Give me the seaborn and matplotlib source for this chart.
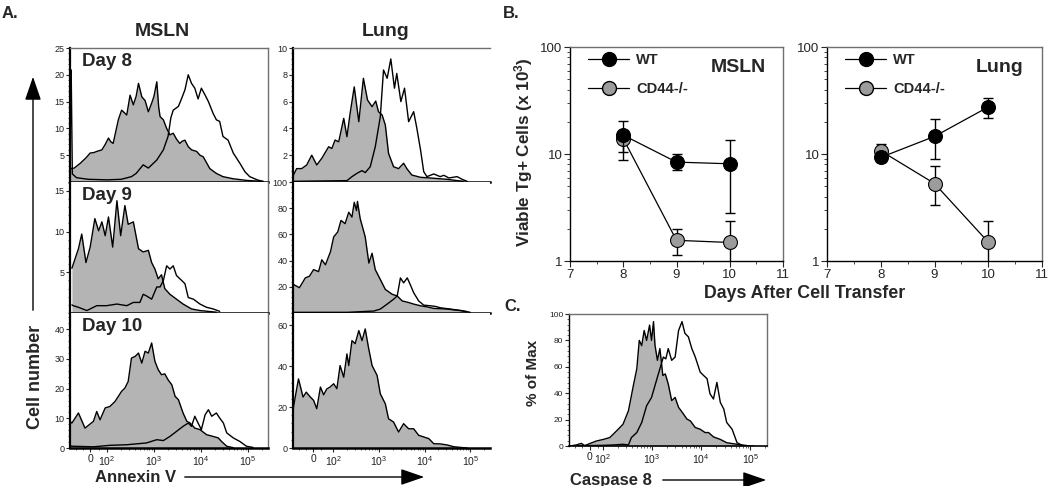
import numpy as np
import pandas as pd
import matplotlib
matplotlib.use("Agg")
import matplotlib.pyplot as plt
import seaborn as sns
from matplotlib.patches import FancyArrowPatch
from matplotlib.lines import Line2D
from matplotlib.ticker import AutoMinorLocator, FixedLocator, LogLocator, NullFormatter

# ---------------- data: panel A (x in decade units of the flow axis) ----------------
msln_d8_fill_x = [1.21, 1.25, 1.30, 1.43, 1.55, 1.64, 1.72, 1.78, 1.89, 1.96, 2.03, 2.08, 2.13, 2.20, 2.24, 2.31, 2.36, 2.42, 2.49, 2.56, 2.62, 2.67, 2.74, 2.81, 2.85, 2.88, 2.95, 3.00, 3.06, 3.10, 3.13, 3.20, 3.27, 3.34, 3.41, 3.48, 3.55, 3.60, 3.66, 3.73, 3.80, 3.91, 3.98, 4.05, 4.12, 4.19, 4.33, 4.47, 4.69, 4.97, 5.33]
msln_d8_fill_y = [2.6, 2.5, 2.6, 3.5, 4.5, 5.4, 5.5, 5.7, 6.0, 7.0, 8.2, 7.5, 7.2, 10.0, 11.6, 13.4, 13.0, 12.5, 16.2, 14.4, 16.0, 18.4, 15.9, 15.2, 14.0, 13.1, 14.7, 16.0, 18.7, 14.0, 12.2, 11.6, 10.0, 8.8, 9.1, 8.0, 7.2, 7.6, 7.8, 6.6, 6.0, 5.7, 5.0, 4.7, 3.6, 2.5, 1.6, 1.0, 0.6, 0.3, 0.1]
msln_d8_open_x = [1.21, 1.225, 1.235, 1.26, 1.35, 1.60, 2.00, 2.30, 2.52, 2.62, 2.77, 2.88, 3.06, 3.20, 3.30, 3.36, 3.41, 3.52, 3.59, 3.66, 3.73, 3.80, 3.87, 3.94, 4.01, 4.09, 4.16, 4.26, 4.33, 4.40, 4.47, 4.58, 4.69, 4.83, 4.94, 5.04, 5.20, 5.33]
msln_d8_open_y = [0.5, 20.9, 20.9, 1.5, 0.8, 0.5, 0.4, 0.5, 1.0, 1.6, 3.2, 2.6, 4.1, 6.0, 8.5, 12.0, 13.4, 14.1, 15.6, 17.2, 20.0, 18.4, 17.5, 15.5, 17.5, 16.2, 15.0, 12.8, 11.6, 11.3, 8.5, 7.8, 5.4, 3.5, 1.9, 1.0, 0.4, 0.1]

msln_d9_fill_x = [1.25, 1.28, 1.39, 1.46, 1.55, 1.64, 1.74, 1.82, 1.89, 1.96, 2.03, 2.12, 2.21, 2.29, 2.38, 2.45, 2.56, 2.67, 2.77, 2.88, 2.95, 3.02, 3.09, 3.16, 3.23, 3.34, 3.48, 3.62, 3.80, 3.98, 4.33]
msln_d9_fill_y = [5.5, 6.0, 7.9, 9.7, 6.2, 8.1, 11.6, 10.1, 11.2, 9.5, 11.8, 8.1, 13.8, 9.5, 13.2, 10.9, 11.2, 7.9, 7.5, 7.7, 6.2, 5.4, 4.2, 4.7, 3.0, 2.3, 1.7, 1.1, 0.5, 0.3, 0.1]
msln_d9_open_x = [1.25, 1.28, 1.39, 1.57, 1.78, 1.99, 2.21, 2.42, 2.56, 2.70, 2.77, 2.84, 2.95, 3.06, 3.13, 3.20, 3.27, 3.34, 3.41, 3.48, 3.59, 3.66, 3.73, 3.84, 3.98, 4.12, 4.26, 4.40]
msln_d9_open_y = [1.0, 0.9, 0.7, 0.3, 0.9, 0.9, 1.1, 0.9, 1.3, 1.3, 2.3, 2.1, 1.7, 3.2, 3.2, 4.0, 5.8, 5.4, 5.8, 4.6, 4.0, 3.6, 1.9, 1.7, 1.1, 0.7, 0.5, 0.2]

msln_d10_fill_x = [1.21, 1.25, 1.39, 1.53, 1.71, 1.78, 1.85, 1.96, 2.06, 2.17, 2.31, 2.38, 2.45, 2.52, 2.60, 2.67, 2.74, 2.81, 2.88, 2.95, 3.02, 3.09, 3.16, 3.23, 3.30, 3.38, 3.45, 3.52, 3.62, 3.70, 3.77, 3.87, 3.98, 4.12, 4.26, 4.37, 4.44, 4.55, 4.69]
msln_d10_fill_y = [9.0, 8.4, 11.8, 6.7, 9.0, 12.3, 9.5, 13.5, 14.0, 15.7, 19.1, 20.2, 22.4, 30.3, 30.9, 32.0, 28.6, 32.6, 32.0, 35.4, 29.2, 26.4, 24.7, 25.0, 23.0, 21.3, 17.4, 16.3, 11.8, 9.0, 8.4, 6.7, 6.2, 4.5, 3.9, 3.4, 2.2, 0.6, 0.1]
msln_d10_open_x = [1.21, 1.25, 1.71, 2.06, 2.42, 2.84, 3.06, 3.20, 3.34, 3.48, 3.62, 3.73, 3.80, 3.87, 3.94, 4.01, 4.09, 4.16, 4.23, 4.33, 4.40, 4.48, 4.55, 4.69, 4.83, 4.97, 5.11]
msln_d10_open_y = [0.8, 0.6, 0.4, 0.9, 1.1, 1.7, 2.8, 2.5, 3.9, 5.6, 7.3, 8.4, 7.3, 10.7, 8.4, 6.2, 11.2, 12.9, 10.7, 11.8, 10.1, 8.4, 5.1, 3.4, 2.2, 0.6, 0.2]

lung_d8_fill_x = [1.12, 1.13, 1.20, 1.31, 1.42, 1.53, 1.64, 1.75, 1.90, 1.97, 2.04, 2.12, 2.23, 2.30, 2.37, 2.46, 2.56, 2.66, 2.75, 2.85, 2.93, 2.99, 3.07, 3.14, 3.21, 3.32, 3.43, 3.54, 3.61, 3.72, 3.91, 4.12, 4.49, 4.85]
lung_d8_fill_y = [0.3, 0.52, 1.0, 1.0, 1.27, 2.0, 1.27, 1.77, 2.63, 2.5, 3.13, 3.0, 4.75, 3.38, 5.13, 7.1, 4.5, 7.74, 6.12, 5.62, 6.04, 5.25, 5.0, 4.25, 2.14, 1.14, 1.0, 1.4, 1.0, 0.52, 0.35, 0.3, 0.2, 0.05]
lung_d8_open_x = [1.12, 2.30, 2.41, 2.52, 2.63, 2.70, 2.81, 2.92, 3.03, 3.10, 3.18, 3.26, 3.34, 3.39, 3.48, 3.56, 3.65, 3.76, 3.83, 3.91, 3.98, 4.05, 4.20, 4.34, 4.42, 4.53, 4.71, 4.82, 4.93]
lung_d8_open_y = [0.05, 0.1, 0.4, 0.65, 0.85, 0.7, 1.14, 2.63, 4.87, 8.36, 7.74, 9.18, 7.0, 8.1, 6.0, 7.0, 4.5, 5.25, 4.0, 2.4, 0.77, 0.4, 0.6, 0.4, 0.5, 0.3, 0.4, 0.2, 0.05]

lung_d9_fill_x = [1.12, 1.13, 1.26, 1.39, 1.48, 1.57, 1.68, 1.75, 1.83, 1.94, 2.01, 2.10, 2.17, 2.26, 2.34, 2.41, 2.46, 2.51, 2.53, 2.59, 2.70, 2.78, 2.85, 2.92, 3.03, 3.14, 3.29, 3.40, 3.51, 3.65, 3.76, 3.91, 4.05, 4.20, 4.49, 4.78, 4.93]
lung_d9_fill_y = [24.0, 21.8, 19.3, 26.8, 28.1, 33.1, 31.6, 40.6, 36.8, 46.8, 58.1, 61.9, 70.7, 68.2, 76.9, 73.2, 84.5, 78.2, 85.2, 72.0, 58.1, 38.1, 45.6, 33.1, 25.6, 18.0, 14.3, 13.0, 9.2, 8.0, 6.8, 5.5, 4.7, 3.5, 3.0, 1.8, 1.0]
lung_d9_open_x = [1.12, 2.30, 2.59, 2.89, 3.03, 3.18, 3.32, 3.40, 3.47, 3.54, 3.62, 3.69, 3.76, 3.87, 3.98, 4.13, 4.24, 4.34, 4.56, 4.78, 5.00]
lung_d9_open_y = [0.5, 0.5, 1.0, 1.5, 3.0, 6.8, 10.5, 13.0, 26.8, 23.0, 26.8, 21.3, 15.5, 9.2, 6.0, 5.5, 5.0, 4.0, 3.0, 2.0, 0.5]

lung_d10_fill_x = [1.12, 1.13, 1.24, 1.34, 1.41, 1.50, 1.57, 1.64, 1.72, 1.79, 1.86, 1.93, 2.01, 2.08, 2.15, 2.23, 2.30, 2.34, 2.41, 2.48, 2.56, 2.63, 2.70, 2.77, 2.85, 2.96, 3.03, 3.14, 3.21, 3.32, 3.43, 3.54, 3.65, 3.76, 3.87, 3.98, 4.09, 4.20, 4.34, 4.49, 4.64, 4.78, 4.93]
lung_d10_fill_y = [18.0, 20.0, 33.8, 24.9, 27.3, 24.9, 23.3, 19.2, 29.8, 26.0, 28.9, 29.8, 31.4, 29.0, 40.3, 34.6, 46.0, 40.3, 52.5, 51.0, 57.4, 52.5, 58.2, 49.3, 40.3, 35.5, 26.5, 21.6, 14.3, 12.7, 7.8, 11.9, 9.4, 9.4, 6.2, 5.4, 4.6, 2.1, 2.0, 1.5, 0.6, 0.3, 0.0]

# ---------------- data: panel C ----------------
casp_fill_x = [1.31, 1.33, 1.46, 1.56, 1.63, 1.73, 1.87, 2.01, 2.14, 2.28, 2.41, 2.52, 2.62, 2.69, 2.74, 2.79, 2.84, 2.89, 2.95, 2.99, 3.03, 3.06, 3.11, 3.16, 3.22, 3.27, 3.33, 3.40, 3.47, 3.54, 3.64, 3.71, 3.78, 3.88, 3.98, 4.08, 4.15, 4.25, 4.39, 4.52, 4.73, 5.00]
casp_fill_y = [0.0, 0.0, 0.8, 2.0, 0.3, 1.8, 3.8, 5.0, 6.4, 11.5, 16.5, 26.7, 45.8, 58.5, 80.0, 76.0, 87.5, 80.0, 91.6, 80.0, 94.2, 76.4, 64.9, 73.8, 53.4, 54.6, 47.0, 34.4, 36.8, 29.3, 24.2, 20.4, 19.0, 14.0, 12.7, 10.2, 10.2, 6.9, 5.0, 2.5, 1.3, 0.0]
casp_open_x = [1.31, 1.67, 2.01, 2.21, 2.41, 2.52, 2.58, 2.69, 2.79, 2.89, 2.99, 3.10, 3.16, 3.23, 3.28, 3.33, 3.40, 3.47, 3.54, 3.61, 3.67, 3.74, 3.81, 3.88, 3.98, 4.05, 4.12, 4.18, 4.25, 4.32, 4.39, 4.46, 4.52, 4.63, 4.73, 4.86, 5.07]
casp_open_y = [0.0, 0.3, 0.5, 0.8, 1.3, 0.8, 6.4, 10.2, 17.8, 30.5, 36.8, 50.9, 58.5, 67.4, 66.0, 73.8, 64.9, 67.4, 87.5, 94.2, 85.3, 82.7, 73.8, 67.4, 56.0, 53.4, 51.0, 39.5, 35.6, 48.2, 33.0, 28.0, 17.8, 12.7, 2.5, 0.0, 0.0]

# ---------------- data: panel B ----------------
days = [8, 9, 10]
msln_wt = [15.0, 8.4, 8.1]
msln_wt_hi = [20.2, 10.0, 13.4]
msln_wt_lo = [10.5, 7.1, 2.8]
msln_ko = [13.9, 1.56, 1.49]
msln_ko_hi = [16.0, 2.0, 2.35]
msln_ko_lo = [8.7, 1.15, 0.5]
lung_wt = [9.3, 14.6, 27.5]
lung_wt_hi = [10.5, 21.4, 33.7]
lung_wt_lo = [8.5, 8.9, 21.9]
lung_ko = [10.7, 5.3, 1.5]
lung_ko_hi = [12.4, 7.65, 2.37]
lung_ko_lo = [9.5, 3.35, 0.5]

flow_tick_labels = ["0", r"$\mathregular{10^2}$", r"$\mathregular{10^3}$", r"$\mathregular{10^4}$", r"$\mathregular{10^5}$"]

# ---------------- style ----------------
sns.set_style("ticks")
plt.rcParams["font.family"] = ["Liberation Sans", "DejaVu Sans"]
plt.rcParams["mathtext.fontset"] = "custom"
plt.rcParams["mathtext.rm"] = "Liberation Sans"
plt.rcParams["mathtext.bf"] = "Liberation Sans:bold"

GRAY_FILL = "#b4b4b4"
MARK_GRAY = "#9c9c9c"
SPINE_GRAY = "#707070"

W, H = 1050, 486
fig = plt.figure(figsize=(W / 100, H / 100), dpi=100)


def fx(p):
    return p / W


def fy(p):
    return 1 - p / H


def rect(x0, y0, x1, y1):
    return [fx(x0), fy(y1), (x1 - x0) / W, (y1 - y0) / H]


def hist_ax(r, fill_x, fill_y, open_x, open_y, xlim, ylim, yticks, zero_u,
            show_x, right_spine, top_spine, ytick_size=6.5):
    ax = fig.add_axes(r)
    ax.fill_between(fill_x, fill_y, 0, color=GRAY_FILL, lw=0, zorder=1)
    sns.lineplot(x=fill_x, y=fill_y, ax=ax, color="black", lw=1.0, sort=False,
                 estimator=None, zorder=3)
    if open_x is not None:
        sns.lineplot(x=open_x, y=open_y, ax=ax, color="black", lw=1.0, sort=False,
                     estimator=None, zorder=4)
    ax.set_xlim(*xlim)
    ax.set_ylim(*ylim)
    ax.set_xlabel("")
    ax.set_ylabel("")
    ax.set_yticks(yticks)
    ax.set_yticklabels([str(t) for t in yticks], fontsize=ytick_size, color="#222222")
    ax.yaxis.set_minor_locator(AutoMinorLocator(5))
    ax.tick_params(axis="y", which="major", length=3, width=0.8, pad=1)
    ax.tick_params(axis="y", which="minor", length=1.5, width=0.5)
    if show_x:
        ax.set_xticks([zero_u, 2, 3, 4, 5])
        ax.set_xticklabels(flow_tick_labels, fontsize=7.5, color="#222222")
        minors = [zero_u - 0.3, zero_u - 0.15, zero_u + 0.18]
        for k in (2, 3, 4, 5):
            for m in range(2, 10):
                v = k + np.log10(m)
                if v < xlim[1]:
                    minors.append(v)
        ax.xaxis.set_minor_locator(FixedLocator([m for m in minors if m > xlim[0]]))
        ax.tick_params(axis="x", which="major", length=3, width=0.8, pad=1.5)
        ax.tick_params(axis="x", which="minor", length=1.5, width=0.5)
    else:
        ax.set_xticks([])
    ax.spines["left"].set_color("black")
    ax.spines["left"].set_linewidth(1.6)
    ax.spines["bottom"].set_color("black")
    ax.spines["bottom"].set_linewidth(1.8)
    ax.spines["right"].set_visible(right_spine)
    ax.spines["right"].set_color(SPINE_GRAY)
    ax.spines["right"].set_linewidth(1.0)
    ax.spines["top"].set_visible(top_spine)
    ax.spines["top"].set_color(SPINE_GRAY)
    ax.spines["top"].set_linewidth(1.0)
    return ax


# ---------------- panel A ----------------
mx = (70, 268)
lx = (293, 490)
rows = [(48, 182), (182, 313), (313, 448)]
m_xlim = (1.21, 5.43)
l_xlim = (1.12, 5.43)

a1 = hist_ax(rect(mx[0], rows[0][0], mx[1], rows[0][1]), msln_d8_fill_x, msln_d8_fill_y,
             msln_d8_open_x, msln_d8_open_y, m_xlim, (0, 25), [5, 10, 15, 20, 25], 1.64,
             False, True, True)
a2 = hist_ax(rect(mx[0], rows[1][0], mx[1], rows[1][1]), msln_d9_fill_x, msln_d9_fill_y,
             msln_d9_open_x, msln_d9_open_y, m_xlim, (0, 16.1), [5, 10, 15], 1.64,
             False, True, False)
a3 = hist_ax(rect(mx[0], rows[2][0], mx[1], rows[2][1]), msln_d10_fill_x, msln_d10_fill_y,
             msln_d10_open_x, msln_d10_open_y, m_xlim, (0, 45.5), [0, 10, 20, 30, 40], 1.64,
             True, True, False)
b1 = hist_ax(rect(lx[0], rows[0][0], lx[1], rows[0][1]), lung_d8_fill_x, lung_d8_fill_y,
             lung_d8_open_x, lung_d8_open_y, l_xlim, (0, 10), [2, 4, 6, 8, 10], 1.56,
             False, False, True)
b2 = hist_ax(rect(lx[0], rows[1][0], lx[1], rows[1][1]), lung_d9_fill_x, lung_d9_fill_y,
             lung_d9_open_x, lung_d9_open_y, l_xlim, (0, 100), [20, 40, 60, 80, 100], 1.56,
             False, False, False)
b3 = hist_ax(rect(lx[0], rows[2][0], lx[1], rows[2][1]), lung_d10_fill_x, lung_d10_fill_y,
             None, None, l_xlim, (0, 66), [0, 20, 40, 60], 1.56,
             True, False, False)

for ax, lab in ((a1, "Day 8"), (a2, "Day 9"), (a3, "Day 10")):
    ax.text(0.06, 0.965, lab, transform=ax.transAxes, ha="left", va="top",
            fontsize=13.5, fontweight="bold")

fig.text(fx(2), fy(13), "A.", fontsize=12, fontweight="bold", ha="left", va="center")
fig.text(fx(162), fy(32), "MSLN", fontsize=14, fontweight="bold", ha="center", va="center")
fig.text(fx(386), fy(32), "Lung", fontsize=14, fontweight="bold", ha="center", va="center")
fig.text(fx(35), fy(377), "Cell number", fontsize=13, fontweight="bold", rotation=90,
         ha="center", va="center")
fig.text(fx(136), fy(477), "Annexin V", fontsize=12, fontweight="bold", ha="center", va="center")


def fig_arrow(x0, y0, x1, y1):
    arr = FancyArrowPatch((fx(x0), fy(y0)), (fx(x1), fy(y1)), transform=fig.transFigure,
                          arrowstyle="-|>,head_length=1.45,head_width=0.5", mutation_scale=10,
                          color="black", lw=1.0)
    fig.patches.append(arr)


fig_arrow(33, 313, 33, 74)
fig_arrow(182, 477, 427, 477)
fig_arrow(660, 480, 769, 480)

# ---------------- panel B ----------------
leg_handles = [
    Line2D([], [], color="black", lw=0.9, marker="o", ms=10, mfc="black", mec="black"),
    Line2D([], [], color="black", lw=0.9, marker="o", ms=10, mfc=MARK_GRAY, mec="black"),
]


def b_ax(r, wt, wt_lo, wt_hi, ko, ko_lo, ko_hi, title, title_x):
    ax = fig.add_axes(r)
    for y, lo, hi, col, z in ((ko, ko_lo, ko_hi, MARK_GRAY, 3), (wt, wt_lo, wt_hi, "black", 5)):
        yerr = [np.array(y) - np.array(lo), np.array(hi) - np.array(y)]
        ax.errorbar(days, y, yerr=yerr, fmt="none", ecolor="black", elinewidth=1.0,
                    capsize=3.5, capthick=1.0, zorder=z)
        sns.lineplot(x=days, y=y, ax=ax, color="black", lw=0.9, marker="o", markersize=10,
                     markerfacecolor=col, markeredgecolor="black", markeredgewidth=0.8,
                     estimator=None, zorder=z + 1)
    ax.set_yscale("log")
    ax.set_ylim(1, 100)
    ax.set_xlim(7, 11)
    ax.set_xticks([7, 8, 9, 10, 11])
    ax.set_xticklabels(["7", "8", "9", "10", "11"], fontsize=9.5)
    ax.xaxis.set_minor_locator(FixedLocator([7.5, 8.5, 9.5, 10.5]))
    ax.set_yticks([1, 10, 100])
    ax.set_yticklabels(["1", "10", "100"], fontsize=9.5)
    ax.yaxis.set_minor_locator(LogLocator(base=10, subs=np.arange(2, 10)))
    ax.yaxis.set_minor_formatter(NullFormatter())
    ax.tick_params(which="major", length=4, width=0.8, pad=1.5)
    ax.tick_params(which="minor", length=2, width=0.6)
    ax.set_xlabel("")
    ax.set_ylabel("")
    for s in ("left", "bottom"):
        ax.spines[s].set_color("black")
        ax.spines[s].set_linewidth(1.0)
    for s in ("top", "right"):
        ax.spines[s].set_color(SPINE_GRAY)
        ax.spines[s].set_linewidth(1.0)
    ax.legend(leg_handles, ["WT", "CD44-/-"], loc="upper left", bbox_to_anchor=(0.085, 0.97),
              frameon=False, handlelength=2.8, borderpad=0, borderaxespad=0, labelspacing=1.0,
              handletextpad=0.5, prop={"weight": "bold", "size": 10.5})
    ax.text(title_x, 0.905, title, transform=ax.transAxes, ha="center", va="center",
            fontsize=14, fontweight="bold")
    return ax


bm = b_ax(rect(570, 47, 783, 261), msln_wt, msln_wt_lo, msln_wt_hi, msln_ko, msln_ko_lo,
          msln_ko_hi, "MSLN", 0.79)
bl = b_ax(rect(827, 47, 1042, 261), lung_wt, lung_wt_lo, lung_wt_hi, lung_ko, lung_ko_lo,
          lung_ko_hi, "Lung", 0.805)

fig.text(fx(511), fy(13), "B.", fontsize=12, fontweight="bold", ha="center", va="center")
fig.text(fx(524), fy(152), r"Viable Tg+ Cells (x 10$\mathregular{^3}$)", fontsize=12.3,
         fontweight="bold", rotation=90, ha="center", va="center")
fig.text(fx(805), fy(293), "Days After Cell Transfer", fontsize=12.8, fontweight="bold",
         ha="center", va="center")

# ---------------- panel C ----------------
c = hist_ax(rect(569, 314, 767, 446), casp_fill_x, casp_fill_y, casp_open_x, casp_open_y,
            (1.31, 5.34), (0, 100), [0, 20, 40, 60, 80, 100], 1.73, True, True, True,
            ytick_size=6)
c.spines["left"].set_linewidth(1.0)
c.spines["bottom"].set_linewidth(1.2)
fig.text(fx(513), fy(306), "C.", fontsize=12, fontweight="bold", ha="center", va="center")
fig.text(fx(533), fy(373), "% of Max", fontsize=11, fontweight="bold", rotation=90,
         ha="center", va="center")
fig.text(fx(611), fy(480), "Caspase 8", fontsize=12, fontweight="bold", ha="center", va="center")

fig.savefig("out.png", dpi=100)
